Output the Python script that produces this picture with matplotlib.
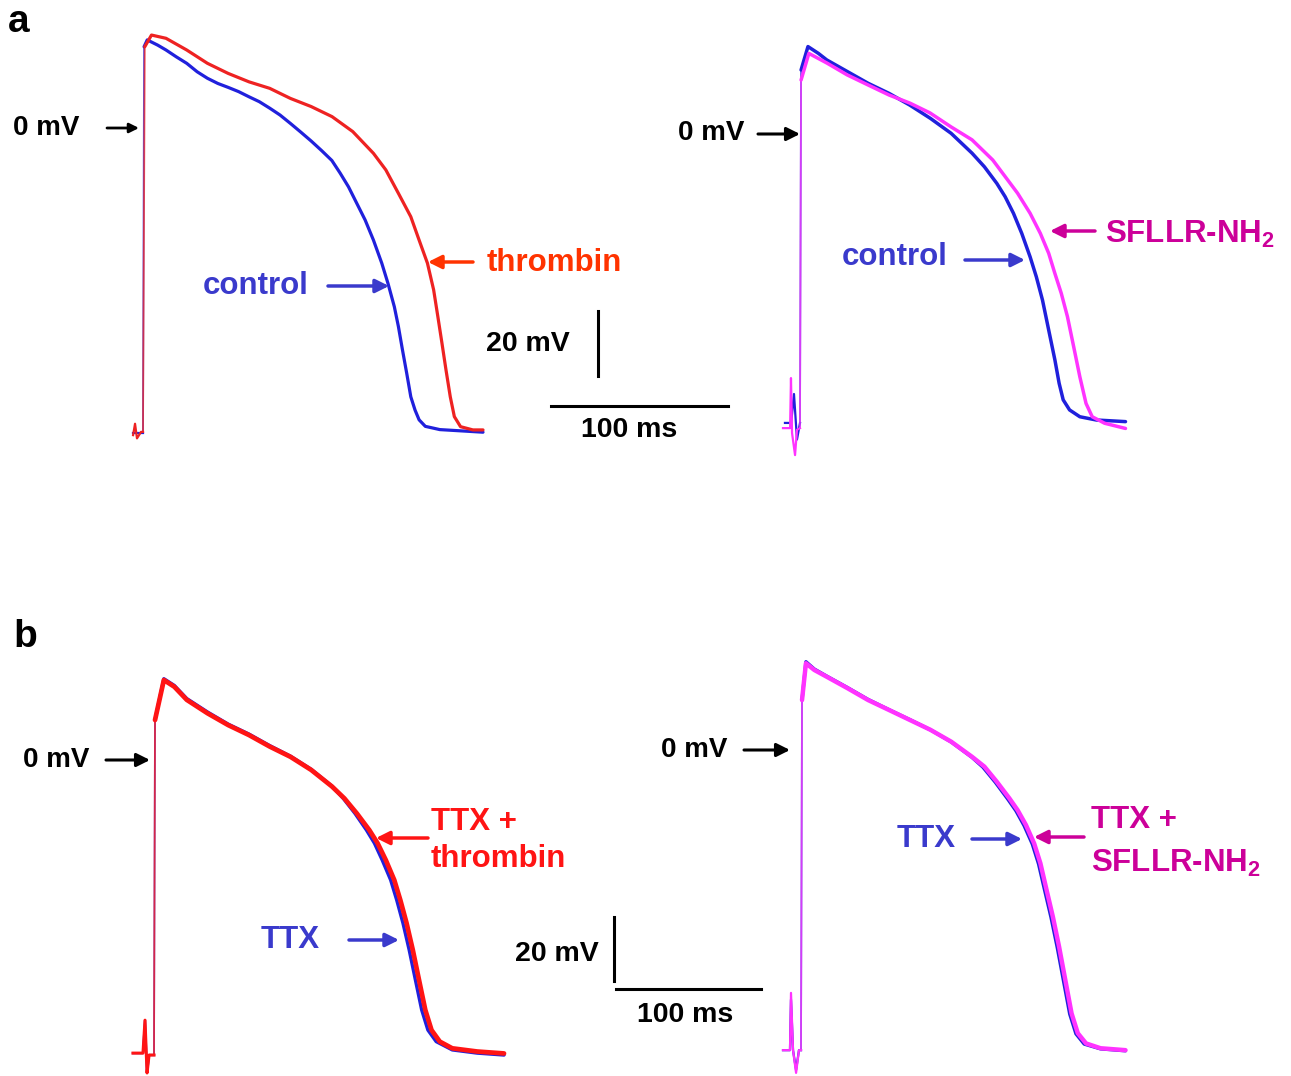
import matplotlib
matplotlib.use("Agg")
import matplotlib.pyplot as plt
from matplotlib.patches import FancyArrowPatch

plt.rcParams["font.family"] = ["Liberation Sans", "DejaVu Sans"]
plt.rcParams["font.weight"] = "bold"
plt.rcParams["mathtext.fontset"] = "custom"
plt.rcParams["mathtext.rm"] = "Liberation Sans:bold"
plt.rcParams["mathtext.it"] = "Liberation Sans:bold"
plt.rcParams["mathtext.bf"] = "Liberation Sans:bold"

# ---- Panel a, left: control vs thrombin (time in ms, membrane potential in mV)
a1_ctrl_t = [-5.6, -1.1, 0.0, 0.6, 2.4, 8.3, 13.0, 18.8, 24.7, 30.6, 36.4, 42.3, 48.1,
             54.0, 59.9, 65.7, 71.6, 77.4, 83.3, 89.0, 95.0, 101.0, 106.7, 111.4, 116.1,
             120.8, 125.5, 130.2, 134.9, 138.4, 142.0, 144.3, 146.6, 149.0, 151.3, 153.7,
             156.0, 159.5, 167.7, 180.0, 192.1]
a1_ctrl_v = [-93.8, -93.8, -93.8, 25.0, 27.1, 25.5, 24.0, 21.9, 19.9, 17.3, 15.3, 13.7,
             12.5, 11.2, 9.6, 8.1, 6.1, 4.0, 1.4, -1.2, -4.0, -7.0, -10.0, -13.9, -18.1,
             -23.2, -28.3, -34.5, -41.6, -47.8, -55.0, -61.1, -68.3, -75.5, -82.7, -86.8,
             -89.8, -91.8, -92.8, -93.2, -93.6]
a1_thr_t = [-5.6, -4.5, -3.4, -1.1, 0.0, 1.0, 4.8, 13.0, 24.7, 36.4, 48.1, 59.9, 71.6,
            83.3, 95.0, 106.8, 118.5, 130.2, 137.2, 144.3, 151.3, 156.0, 160.7, 164.2,
            166.6, 168.9, 171.2, 173.6, 175.9, 179.4, 186.4, 192.1]
a1_thr_v = [-94.5, -91.0, -95.5, -93.5, -93.5, 25.0, 28.6, 27.6, 24.0, 19.9, 16.8, 14.2,
            12.2, 9.1, 6.6, 3.5, -1.1, -7.8, -12.9, -20.1, -27.3, -34.5, -41.6, -49.8,
            -58.1, -66.2, -74.5, -82.7, -88.8, -91.9, -92.9, -92.9]

# ---- Panel a, right: control vs SFLLR-NH2
a2_ctrl_t = [-8.5, -5.0, -3.4, -1.7, 0.0, 0.6, 4.5, 10.4, 15.1, 26.8, 38.5, 50.3, 62.0,
             73.7, 85.4, 97.2, 104.2, 111.2, 115.9, 120.6, 125.3, 130.0, 133.5, 137.0,
             140.5, 144.0, 146.4, 148.7, 152.3, 158.1, 167.4, 183.9]
a2_ctrl_v = [-88.9, -88.9, -80.0, -94.0, -88.9, 19.7, 26.9, 24.8, 22.8, 19.2, 15.6, 12.5,
             8.9, 4.8, 0.2, -5.9, -10.1, -15.2, -19.3, -24.4, -30.6, -37.8, -43.9, -51.1,
             -60.3, -69.5, -76.7, -81.8, -84.9, -87.0, -88.0, -88.5]
a2_sfl_t = [-9.6, -5.6, -5.1, -4.5, -2.8, -1.7, 0.0, 0.6, 5.0, 15.3, 26.6, 38.4, 50.3,
            62.1, 73.4, 85.3, 97.2, 108.9, 115.9, 122.9, 130.0, 135.8, 140.5, 144.0, 147.6,
            151.1, 154.6, 158.1, 161.6, 165.1, 172.1, 183.9]
a2_sfl_v = [-90.5, -90.5, -75.1, -92.0, -98.8, -91.0, -90.5, 16.6, 24.8, 21.8, 18.2, 15.1,
            12.0, 9.5, 6.5, 2.2, -1.8, -8.0, -13.1, -18.2, -24.4, -30.6, -36.7, -42.9,
            -49.0, -56.2, -65.4, -74.7, -82.9, -87.0, -89.0, -90.6]

# ---- Panel b, left: TTX vs TTX + thrombin
b1_ttx_t = [-14.5, -7.6, -6.2, -4.8, -3.4, 0.0, 0.7, 6.8, 14.0, 22.6, 36.9, 51.2, 65.5,
            79.8, 94.1, 108.4, 122.8, 130.5, 138.6, 146.5, 152.0, 157.4, 163.2, 167.4,
            171.7, 176.0, 180.3, 184.6, 188.9, 194.6, 205.7, 222.9, 241.4]
b1_ttx_v = [-91.6, -91.6, -81.3, -97.8, -92.2, -92.2, 12.5, 25.4, 23.3, 19.2, 15.0, 11.2,
            8.1, 4.5, 1.2, -2.9, -8.2, -12.0, -16.7, -21.9, -26.0, -31.3, -37.5, -43.8,
            -51.0, -59.4, -68.8, -78.1, -84.4, -88.0, -90.6, -91.6, -92.2]
b1_thr_t = [-14.5, -7.6, -6.2, -4.8, -3.4, 0.0, 0.7, 6.8, 14.0, 22.6, 36.9, 51.2, 65.5,
            79.8, 94.1, 108.4, 122.8, 131.3, 139.9, 148.5, 154.2, 159.9, 165.7, 169.9,
            174.2, 178.5, 182.8, 187.1, 191.4, 197.1, 205.7, 222.9, 241.4]
b1_thr_v = [-91.6, -91.6, -81.3, -97.8, -92.2, -92.2, 12.5, 25.0, 22.9, 18.8, 14.6, 10.9,
            7.8, 4.2, 1.0, -3.1, -8.3, -12.0, -16.7, -21.9, -26.0, -31.3, -37.5, -43.8,
            -51.0, -59.4, -68.8, -78.1, -84.4, -88.0, -90.1, -91.1, -91.7]

# ---- Panel b, right: TTX vs TTX + SFLLR-NH2
b2_ttx_t = [-12.4, -7.6, -6.9, -5.5, -3.4, -1.4, 0.0, 0.7, 3.4, 9.2, 17.7, 32.1, 46.3,
            60.7, 75.0, 89.3, 103.6, 117.9, 125.5, 134.0, 142.5, 148.2, 153.8, 159.5,
            163.8, 168.1, 172.4, 176.7, 181.0, 185.3, 189.6, 195.3, 206.6, 223.8]
b2_ttx_v = [-93.8, -93.8, -78.0, -93.8, -100.0, -93.8, -93.8, 15.6, 27.6, 25.3, 23.1,
            19.5, 15.8, 12.6, 9.5, 6.3, 2.5, -2.3, -5.4, -10.1, -15.3, -19.0, -23.6, -29.4,
            -35.6, -44.0, -52.3, -61.7, -72.1, -82.5, -88.7, -91.9, -93.4, -94.0]
b2_sfl_t = [-12.4, -7.6, -6.9, -5.5, -3.4, -1.4, 0.0, 0.7, 3.4, 9.2, 17.7, 32.1, 46.3,
            60.7, 75.0, 89.3, 103.6, 117.9, 126.5, 135.0, 143.7, 149.4, 155.1, 160.8,
            165.1, 169.4, 173.7, 178.0, 182.3, 186.6, 190.9, 196.6, 206.6, 223.8]
b2_sfl_v = [-93.8, -93.8, -75.9, -93.8, -100.9, -93.8, -93.8, 15.6, 27.1, 25.0, 22.9,
            19.3, 15.6, 12.5, 9.4, 6.3, 2.6, -2.1, -5.2, -9.9, -15.1, -18.8, -23.4, -29.2,
            -35.4, -43.8, -52.1, -61.5, -71.9, -82.3, -88.5, -91.7, -93.2, -93.8]

# Scale bar sizes
bar_ms = 100
bar_mv = 20

BLUE = "#2020dc"
BLUE_TXT = "#3a3acc"
RED_A = "#ee2222"
RED_A_TXT = "#ff3300"
RED_B = "#ff1414"
MAG = "#ff33ff"
MAG_TXT = "#cc0099"

W, H = 1291, 1076
fig = plt.figure(figsize=(W / 100, H / 100), dpi=100)


def fx(x):
    return x / W


def fy(y):
    return 1 - y / H


def panel_axes(box, x0, y0, px_ms, px_mv):
    """Axes spanning a pixel box, with t=0 / V=0 placed at pixel (x0, y0)."""
    l, t, r, b = box
    ax = fig.add_axes([fx(l), fy(b), (r - l) / W, (b - t) / H])
    ax.set_xlim((l - x0) / px_ms, (r - x0) / px_ms)
    ax.set_ylim((y0 - b) / px_mv, (y0 - t) / px_mv)
    ax.axis("off")
    return ax


def label(x, y, s, color="black", size=20, ha="center", va="center", **kw):
    fig.text(fx(x), fy(y), s, color=color, fontsize=size, fontweight="bold",
             ha=ha, va=va, **kw)


def arrow(x_from, x_to, y, color="black", lw=2.2, ms=20):
    fig.add_artist(FancyArrowPatch(
        (fx(x_from), fy(y)), (fx(x_to), fy(y)), transform=fig.transFigure,
        arrowstyle="-|>", color=color, lw=lw, mutation_scale=ms,
        shrinkA=0, shrinkB=0))


def trace(ax, t, v, color, lw, base_lw=1.6):
    """Fast upstroke and stimulus artefact are drawn thin, the rest of the AP thicker."""
    k = next(i for i, ti in enumerate(t) if ti > 0)  # first sample after the upstroke
    ax.plot(t[:k], v[:k], color=color, lw=base_lw, solid_joinstyle="round")
    ax.plot(t[k - 1:k + 1], v[k - 1:k + 1], color=color, lw=1.3, alpha=0.75)
    ax.plot(t[k:], v[k:], color=color, lw=lw, solid_joinstyle="round",
            solid_capstyle="round")


# Panel a (left)
ax1 = panel_axes((100, 20, 520, 470), 143, 128, 1.77, 3.25)
trace(ax1, a1_ctrl_t, a1_ctrl_v, BLUE, 2.3)
trace(ax1, a1_thr_t, a1_thr_v, RED_A, 2.3)

# Panel a (right)
ax2 = panel_axes((760, 20, 1140, 470), 800, 134, 1.77, 3.25)
trace(ax2, a2_ctrl_t, a2_ctrl_v, BLUE, 2.5)
trace(ax2, a2_sfl_t, a2_sfl_v, MAG, 2.5)

# Panel b (left)
ax3 = panel_axes((100, 640, 520, 1076), 154, 760, 1.45, 3.2)
trace(ax3, b1_ttx_t, b1_ttx_v, BLUE, 2.4)
trace(ax3, b1_thr_t, b1_thr_v, RED_B, 3.4, base_lw=2.2)

# Panel b (right)
ax4 = panel_axes((760, 640, 1140, 1076), 801, 750, 1.45, 3.2)
trace(ax4, b2_ttx_t, b2_ttx_v, BLUE, 2.4)
trace(ax4, b2_sfl_t, b2_sfl_v, MAG, 3.2)

# Scale bars (drawn in data units of the neighbouring panel)
sb_t, sb_v = 230.5, -85.5
ax1.plot([sb_t, sb_t + bar_ms], [sb_v, sb_v], color="black", lw=2.2, clip_on=False)
ax1.plot([257.0, 257.0], [-76.3, -76.3 + bar_mv], color="black", lw=2.2, clip_on=False)
sb_t, sb_v = 318.6, -71.6
ax3.plot([sb_t, sb_t + bar_ms], [sb_v, sb_v], color="black", lw=2.2, clip_on=False)
ax3.plot([317.2, 317.2], [-69.0, -69.0 + bar_mv], color="black", lw=2.2, clip_on=False)

label(528, 344, f"{bar_mv} mV", size=20.5)
label(629, 430, f"{bar_ms} ms", size=20.5)
label(557, 954, f"{bar_mv} mV", size=20.5)
label(685, 1015, f"{bar_ms} ms", size=20.5)

# Panel letters
label(8, 22, "a", size=28, ha="left")
label(13, 637, "b", size=28, ha="left")

# 0 mV markers
label(46, 128, "0 mV", size=20)
arrow(107, 139, 128, lw=2.0, ms=14)
label(711, 133, "0 mV", size=20)
arrow(758, 800, 134)
label(56, 760, "0 mV", size=20)
arrow(106, 150, 760)
label(694, 750, "0 mV", size=20)
arrow(744, 790, 750)

# Trace labels, panel a
label(256, 286, "control", color=BLUE_TXT, size=22.5)
arrow(328, 389, 286, color=BLUE_TXT, lw=2.5, ms=20)
label(487, 263, "thrombin", color=RED_A_TXT, size=22.5, ha="left")
arrow(473, 428, 262, color=RED_A_TXT, lw=2.5, ms=20)
label(895, 257, "control", color=BLUE_TXT, size=22.5)
arrow(965, 1025, 260, color=BLUE_TXT, lw=2.5, ms=20)
label(1105, 234, r"SFLLR-NH$_\mathrm{2}$", color=MAG_TXT, size=22.5, ha="left")
arrow(1095, 1050, 231, color=MAG_TXT, lw=2.5, ms=20)

# Trace labels, panel b
label(431, 822, "TTX +", color=RED_B, size=22.5, ha="left")
label(431, 859, "thrombin", color=RED_B, size=22.5, ha="left")
arrow(428, 376, 838, color=RED_B, lw=2.5, ms=20)
label(290, 940, "TTX", color=BLUE_TXT, size=22.5)
arrow(349, 399, 940, color=BLUE_TXT, lw=2.5, ms=20)
label(926, 839, "TTX", color=BLUE_TXT, size=22.5)
arrow(972, 1022, 839, color=BLUE_TXT, lw=2.5, ms=20)
label(1091, 820, "TTX +", color=MAG_TXT, size=22.5, ha="left")
label(1091, 863, r"SFLLR-NH$_\mathrm{2}$", color=MAG_TXT, size=22.5, ha="left")
arrow(1084, 1034, 837, color=MAG_TXT, lw=2.5, ms=20)

fig.savefig("out.png", dpi=100, facecolor="white")
